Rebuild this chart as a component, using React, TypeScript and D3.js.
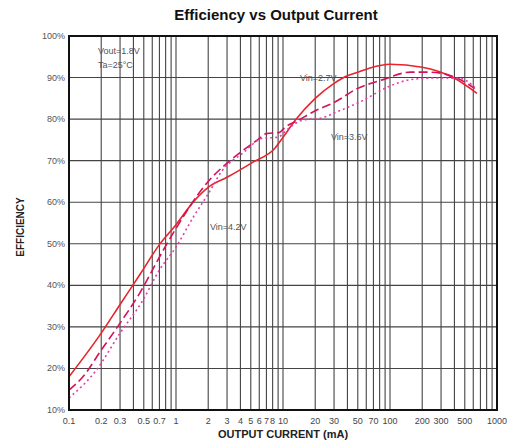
import React from 'react'
import * as d3 from 'd3'

const W = 513
const H = 443
const margin = { top: 36, right: 16, bottom: 33, left: 69 }

// Vin = 2.7V (solid)
const current27 = [0.1, 0.2, 0.3, 0.46, 0.7, 1, 1.5, 2, 3, 5.2, 8.4, 10, 13, 20, 30, 38, 50, 65, 100, 200, 390, 650]
const eff27 = [18, 28.5, 35.4, 42.6, 49.8, 54.6, 60.5, 63.6, 66, 69.6, 73, 75.6, 79.7, 85, 88.6, 90.2, 91.3, 92.3, 93.2, 92.5, 90, 86.2]

// Vin = 3.6V (dashed)
const current36 = [0.1, 0.135, 0.2, 0.3, 0.46, 0.7, 1, 2, 3, 4, 5.7, 7, 9.3, 10.4, 13.4, 20, 30, 50, 86, 156, 235, 420, 620]
const eff36 = [14.8, 18, 24.4, 30.9, 38.2, 46.8, 53.7, 65, 69.4, 72, 74.9, 76.5, 76.8, 78, 79.5, 82, 84, 87.4, 89.5, 91.3, 91.3, 89.9, 87.4]

// Vin = 4.2V (dotted)
const current42 = [0.1, 0.18, 0.3, 0.49, 0.7, 1, 1.45, 2, 2.7, 4.2, 6.5, 8.8, 11.6, 15, 24, 31, 56, 93, 156, 270, 450, 620]
const eff42 = [12.9, 19.6, 28.5, 36.4, 43.7, 49.2, 56.4, 62, 67.6, 71.8, 75.4, 75.6, 78, 79.7, 80.4, 81.6, 84.5, 87.6, 89.5, 89.9, 89.8, 87.6]

const xTickLabels = [0.1, 0.2, 0.3, 0.5, 0.7, 1, 2, 3, 4, 5, 6, 7, 8, 10, 20, 30, 50, 70, 100, 200, 300, 500, 1000]
const yTicks = [10, 20, 30, 40, 50, 60, 70, 80, 90, 100]

const series = [
  { name: 'Vin=2.7V', xs: current27, ys: eff27, color: '#e8242c', dash: null },
  { name: 'Vin=3.6V', xs: current36, ys: eff36, color: '#d4125a', dash: '9,4' },
  { name: 'Vin=4.2V', xs: current42, ys: eff42, color: '#e040a8', dash: '2,3' },
]

export default function App() {
  const x = d3.scaleLog().domain([0.1, 1000]).range([margin.left, W - margin.right])
  const y = d3.scaleLinear().domain([10, 100]).range([H - margin.bottom, margin.top])

  const gridX: number[] = []
  for (const dec of [0.1, 1, 10, 100]) {
    for (let k = 1; k <= 9; k++) gridX.push(dec * k)
  }
  gridX.push(1000)

  const line = d3.line<[number, number]>()
    .x(d => x(d[0]))
    .y(d => y(d[1]))
    .curve(d3.curveMonotoneX)

  const font = 'Arial, "Liberation Sans", sans-serif'
  const x0 = margin.left, x1 = W - margin.right
  const y0 = margin.top, y1 = H - margin.bottom

  return (
    <svg width={W} height={H} style={{ position: 'absolute', left: 0, top: 0, background: '#fff' }} fontFamily={font}>
      <text x={276} y={20} textAnchor="middle" fontSize={15} fontWeight="bold" fill="#111">
        Efficiency vs Output Current
      </text>

      {/* grid */}
      <g stroke="#444" strokeWidth={1.1}>
        {gridX.map((v, i) => (
          <line key={'gx' + i} x1={x(v)} x2={x(v)} y1={y0} y2={y1} />
        ))}
        {yTicks.map(t => (
          <line key={'gy' + t} x1={x0} x2={x1} y1={y(t)} y2={y(t)} />
        ))}
      </g>

      {/* curves */}
      <g fill="none">
        {series.map(s => (
          <path
            key={s.name}
            d={line(s.xs.map((v, i) => [v, s.ys[i]] as [number, number])) || ''}
            stroke={s.color}
            strokeWidth={1.6}
            strokeDasharray={s.dash || undefined}
          />
        ))}
      </g>

      <rect x={x0} y={y0} width={x1 - x0} height={y1 - y0} fill="none" stroke="#111" strokeWidth={2} />

      {/* y tick labels */}
      <g fontSize={9} fill="#555" textAnchor="end">
        {yTicks.map(t => (
          <text key={'yl' + t} x={x0 - 4} y={y(t) + 3}>{t}%</text>
        ))}
      </g>

      {/* x tick labels */}
      <g fontSize={9} fill="#444" textAnchor="middle">
        {xTickLabels.map(v => (
          <text key={'xl' + v} x={x(v)} y={y1 + 14}>{v}</text>
        ))}
      </g>

      <text x={283} y={438} textAnchor="middle" fontSize={11} fontWeight="bold" fill="#222">
        OUTPUT CURRENT (mA)
      </text>
      <text transform={`translate(24,${(y0 + y1) / 2 + 4}) rotate(-90)`} textAnchor="middle" fontSize={10} fontWeight="bold" fill="#222">
        EFFICIENCY
      </text>

      {/* annotations */}
      <g fontSize={9} fill="#555">
        <text x={98} y={54}>Vout=1.8V</text>
        <text x={98} y={68}>Ta=25°C</text>
        <text x={300} y={81}>{series[0].name}</text>
        <text x={331} y={140}>{series[1].name}</text>
        <text x={210} y={230}>{series[2].name}</text>
      </g>
    </svg>
  )
}
